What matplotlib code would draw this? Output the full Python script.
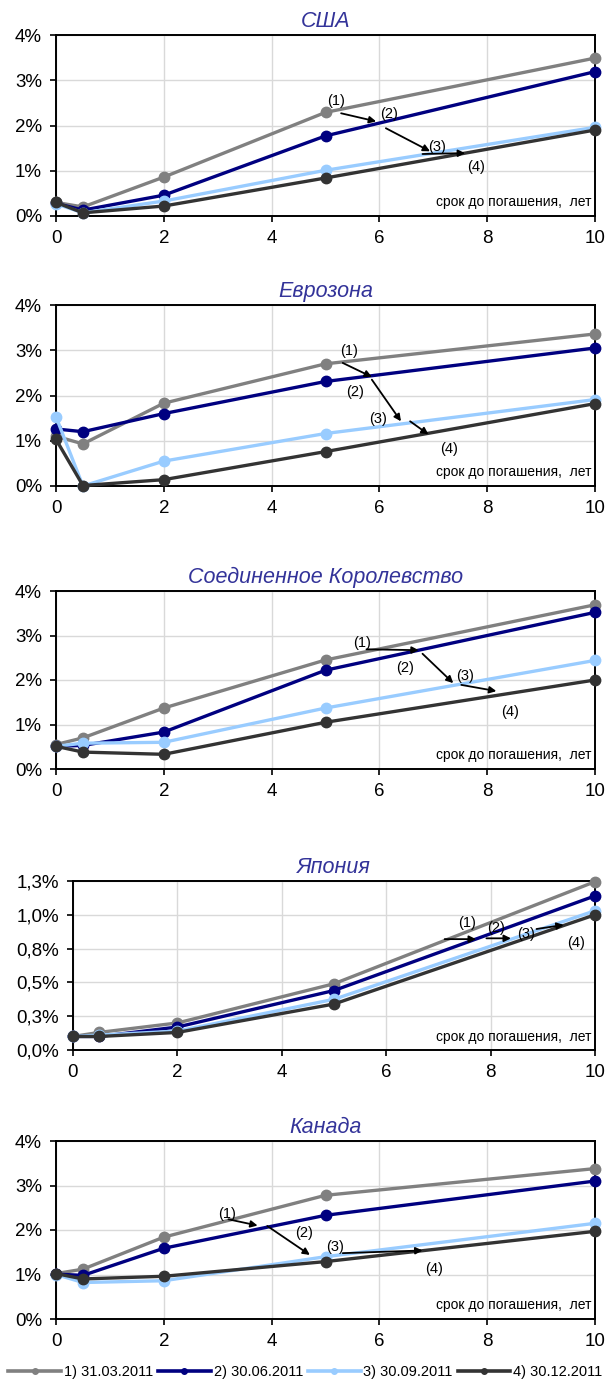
import matplotlib
matplotlib.use("Agg")
import matplotlib.pyplot as plt
from matplotlib.lines import Line2D

plt.rcParams['font.family'] = ['Liberation Sans', 'DejaVu Sans']

maturities = [0, 0.5, 2, 5, 10]
series_labels = ["1) 31.03.2011", "2) 30.06.2011", "3) 30.09.2011", "4) 30.12.2011"]
series_colors = ["#808080", "#000080", "#99CCFF", "#333333"]

# yields, % (series 1..4)
usa = [
    [0.30, 0.20, 0.86, 2.29, 3.49],
    [0.28, 0.13, 0.46, 1.77, 3.19],
    [0.27, 0.07, 0.33, 1.01, 1.96],
    [0.30, 0.07, 0.22, 0.84, 1.90],
]
euro = [
    [1.10, 0.93, 1.83, 2.70, 3.36],
    [1.26, 1.20, 1.60, 2.31, 3.05],
    [1.53, 0.00, 0.55, 1.16, 1.91],
    [1.03, 0.01, 0.14, 0.76, 1.82],
]
uk = [
    [0.55, 0.70, 1.37, 2.45, 3.69],
    [0.51, 0.53, 0.83, 2.22, 3.52],
    [0.51, 0.58, 0.60, 1.37, 2.44],
    [0.51, 0.38, 0.33, 1.05, 2.00],
]
japan = [
    [0.10, 0.13, 0.20, 0.49, 1.245],
    [0.10, 0.10, 0.17, 0.44, 1.14],
    [0.10, 0.11, 0.14, 0.375, 1.03],
    [0.10, 0.10, 0.13, 0.34, 1.00],
]
canada = [
    [1.02, 1.12, 1.84, 2.78, 3.38],
    [1.01, 0.98, 1.59, 2.33, 3.10],
    [1.00, 0.82, 0.86, 1.40, 2.15],
    [1.02, 0.90, 0.96, 1.29, 1.97],
]

pct_ticks = [0, 1, 2, 3, 4]
pct_labels = ["0%", "1%", "2%", "3%", "4%"]
japan_ticks = [0, 0.25, 0.5, 0.75, 1.0, 1.25]
japan_labels = ["0,0%", "0,3%", "0,5%", "0,8%", "1,0%", "1,3%"]
x_ticks = [0, 2, 4, 6, 8, 10]

# annotations: (label, text pos), arrows (start, end) in data coords
ann_usa = ([("(1)", 5.2, 2.55), ("(2)", 6.17, 2.25), ("(3)", 7.07, 1.52), ("(4)", 7.8, 1.08)],
           [((5.29, 2.27), (5.94, 2.09)), ((6.12, 1.94), (6.94, 1.43)), ((6.8, 1.37), (7.59, 1.39))])
ann_euro = ([("(1)", 5.43, 2.98), ("(2)", 5.54, 2.08), ("(3)", 5.97, 1.48), ("(4)", 7.3, 0.81)],
            [((5.32, 2.72), (5.86, 2.41)), ((5.86, 2.35), (6.4, 1.43)), ((6.57, 1.43), (6.91, 1.14))])
ann_uk = ([("(1)", 5.68, 2.84), ("(2)", 6.47, 2.28), ("(3)", 7.59, 2.09), ("(4)", 8.42, 1.27)],
          [((5.76, 2.69), (6.73, 2.67)), ((6.8, 2.59), (7.37, 1.93)), ((7.52, 1.89), (8.17, 1.75))])
ann_japan = ([("(1)", 7.55, 0.94), ("(2)", 8.1, 0.90), ("(3)", 8.68, 0.86), ("(4)", 9.64, 0.79)],
             [((7.12, 0.82), (7.72, 0.82)), ((7.92, 0.826), (8.39, 0.826)), ((8.88, 0.895), (9.4, 0.925))])
ann_canada = ([("(1)", 3.17, 2.37), ("(2)", 4.6, 1.94), ("(3)", 5.18, 1.61), ("(4)", 7.01, 1.13)],
              [((3.2, 2.24), (3.74, 2.10)), ((3.92, 2.09), (4.71, 1.44)), ((5.32, 1.48), (6.8, 1.54))])

panels = [
    ("США", usa, pct_ticks, pct_labels, ann_usa, (56, 35, 216)),
    ("Еврозона", euro, pct_ticks, pct_labels, ann_euro, (56, 305, 486)),
    ("Соединенное Королевство", uk, pct_ticks, pct_labels, ann_uk, (56, 591, 769)),
    ("Япония", japan, japan_ticks, japan_labels, ann_japan, (73, 881, 1050)),
    ("Канада", canada, pct_ticks, pct_labels, ann_canada, (56, 1141, 1319)),
]

W, H = 605, 1387
fig = plt.figure(figsize=(W / 100, H / 100), dpi=100)
right_px = 595

for title, data, yt, yl, ann, (lpx, tpx, bpx) in panels:
    ax = fig.add_axes([lpx / W, (H - bpx) / H, (right_px - lpx) / W, (bpx - tpx) / H])
    for vals, col in zip(data, series_colors):
        ax.plot(maturities, vals, color=col, lw=2.4, marker='o', ms=7.5,
                markeredgecolor=col, clip_on=False, zorder=3)
    ax.set_xlim(0, 10)
    ax.set_ylim(yt[0], yt[-1])
    ax.set_xticks(x_ticks)
    ax.set_yticks(yt)
    ax.set_yticklabels(yl)
    ax.grid(True, color="#D9D9D9", lw=1.0)
    ax.set_axisbelow(True)
    for s in ax.spines.values():
        s.set_linewidth(1.4)
        s.set_color("black")
    ax.tick_params(axis='both', direction='out', length=4, width=1.2,
                   labelsize=13.5, pad=6)
    ax.set_title(title, fontsize=15.5, style='italic', color="#333399", pad=6)
    ax.text(0.993, 0.055, "срок до погашения,  лет", transform=ax.transAxes,
            ha='right', va='baseline', fontsize=10)
    texts, arrows = ann
    for lab, tx, ty in texts:
        ax.text(tx, ty, lab, ha='center', va='center', fontsize=10.5, zorder=5)
    for (x0, y0), (x1, y1) in arrows:
        ax.annotate('', xy=(x1, y1), xytext=(x0, y0),
                    arrowprops=dict(arrowstyle='-|>', color='black', lw=1.3,
                                    mutation_scale=10, shrinkA=0, shrinkB=0),
                    zorder=6)

handles = [Line2D([0], [0], color=c, lw=2.6, marker='o', ms=4) for c in series_colors]
fig.legend(handles, series_labels, loc='center', bbox_to_anchor=(0.505, (H - 1372) / H),
           ncol=4, frameon=False, fontsize=10.5, handlelength=3.6,
           handletextpad=0.2, columnspacing=0.35, borderaxespad=0, borderpad=0)

fig.savefig("out.png", dpi=100)
